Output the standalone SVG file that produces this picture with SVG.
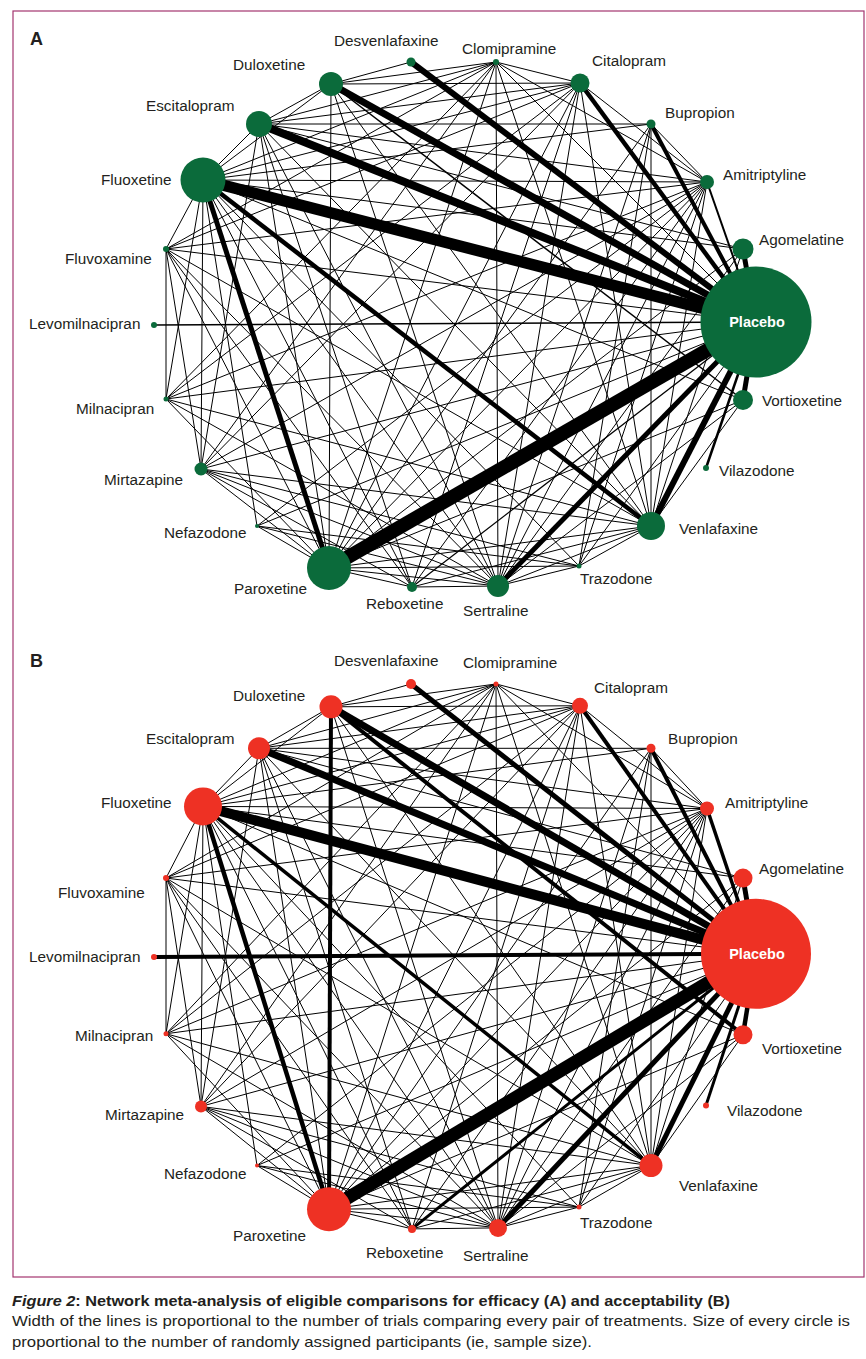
<svg xmlns="http://www.w3.org/2000/svg" xmlns:xlink="http://www.w3.org/1999/xlink" width="866" height="1359" viewBox="0 0 866 1359">
<style>
.bg{fill:#fff}
.frame{fill:none;stroke:#a3356f;stroke-width:1.2}
line{stroke:#000;stroke-linecap:butt;vector-effect:non-scaling-stroke}
.t{stroke-width:1}
.lbl{font-family:"Liberation Sans",Arial,sans-serif;font-size:15.3px;fill:#231f20}
.pl{font-family:"Liberation Sans",Arial,sans-serif;font-size:14.5px;font-weight:bold;fill:#fff;text-anchor:middle}
.pan{font-family:"Liberation Sans",Arial,sans-serif;font-size:18px;font-weight:bold;fill:#231f20}
.cap{font-family:"Liberation Sans",Arial,sans-serif;font-size:15px;fill:#231f20}
.g{fill:#0b6b3b}
.r{fill:#ee3124}
</style>
<defs>
<g id="thin" class="t">
<line x1="743" y1="249" x2="203" y2="180"/>
<line x1="743" y1="249" x2="329" y2="568"/>
<line x1="743" y1="249" x2="498" y2="586"/>
<line x1="743" y1="249" x2="259" y2="124"/>
<line x1="743" y1="249" x2="651" y2="526"/>
<line x1="707" y1="182" x2="203" y2="180"/>
<line x1="707" y1="182" x2="329" y2="568"/>
<line x1="707" y1="182" x2="498" y2="586"/>
<line x1="707" y1="182" x2="580" y2="83"/>
<line x1="707" y1="182" x2="166" y2="249"/>
<line x1="707" y1="182" x2="201" y2="469"/>
<line x1="707" y1="182" x2="579" y2="566"/>
<line x1="707" y1="182" x2="651" y2="526"/>
<line x1="707" y1="182" x2="166" y2="399"/>
<line x1="707" y1="182" x2="412" y2="587"/>
<line x1="707" y1="182" x2="259" y2="124"/>
<line x1="707" y1="182" x2="651" y2="124"/>
<line x1="707" y1="182" x2="496" y2="62"/>
<line x1="707" y1="182" x2="257" y2="526"/>
<line x1="651" y1="124" x2="259" y2="124"/>
<line x1="651" y1="124" x2="203" y2="180"/>
<line x1="651" y1="124" x2="329" y2="568"/>
<line x1="651" y1="124" x2="498" y2="586"/>
<line x1="651" y1="124" x2="579" y2="566"/>
<line x1="651" y1="124" x2="651" y2="526"/>
<line x1="580" y1="83" x2="496" y2="62"/>
<line x1="580" y1="83" x2="259" y2="124"/>
<line x1="580" y1="83" x2="203" y2="180"/>
<line x1="580" y1="83" x2="166" y2="249"/>
<line x1="580" y1="83" x2="201" y2="469"/>
<line x1="580" y1="83" x2="329" y2="568"/>
<line x1="580" y1="83" x2="412" y2="587"/>
<line x1="580" y1="83" x2="498" y2="586"/>
<line x1="580" y1="83" x2="651" y2="526"/>
<line x1="580" y1="83" x2="331" y2="84"/>
<line x1="580" y1="83" x2="166" y2="399"/>
<line x1="496" y1="62" x2="203" y2="180"/>
<line x1="496" y1="62" x2="166" y2="249"/>
<line x1="496" y1="62" x2="329" y2="568"/>
<line x1="496" y1="62" x2="498" y2="586"/>
<line x1="496" y1="62" x2="651" y2="526"/>
<line x1="496" y1="62" x2="201" y2="469"/>
<line x1="496" y1="62" x2="166" y2="399"/>
<line x1="496" y1="62" x2="259" y2="124"/>
<line x1="496" y1="62" x2="331" y2="84"/>
<line x1="411" y1="62" x2="331" y2="84"/>
<line x1="331" y1="84" x2="259" y2="124"/>
<line x1="331" y1="84" x2="203" y2="180"/>
<line x1="331" y1="84" x2="329" y2="568"/>
<line x1="331" y1="84" x2="651" y2="526"/>
<line x1="331" y1="84" x2="498" y2="586"/>
<line x1="259" y1="124" x2="203" y2="180"/>
<line x1="259" y1="124" x2="329" y2="568"/>
<line x1="259" y1="124" x2="498" y2="586"/>
<line x1="259" y1="124" x2="651" y2="526"/>
<line x1="259" y1="124" x2="412" y2="587"/>
<line x1="259" y1="124" x2="201" y2="469"/>
<line x1="203" y1="180" x2="166" y2="249"/>
<line x1="203" y1="180" x2="166" y2="399"/>
<line x1="203" y1="180" x2="201" y2="469"/>
<line x1="203" y1="180" x2="257" y2="526"/>
<line x1="203" y1="180" x2="412" y2="587"/>
<line x1="203" y1="180" x2="498" y2="586"/>
<line x1="203" y1="180" x2="579" y2="566"/>
<line x1="203" y1="180" x2="743" y2="400"/>
<line x1="166" y1="249" x2="329" y2="568"/>
<line x1="166" y1="249" x2="498" y2="586"/>
<line x1="166" y1="249" x2="166" y2="399"/>
<line x1="166" y1="249" x2="201" y2="469"/>
<line x1="166" y1="249" x2="651" y2="526"/>
<line x1="166" y1="249" x2="412" y2="587"/>
<line x1="166" y1="399" x2="329" y2="568"/>
<line x1="166" y1="399" x2="651" y2="526"/>
<line x1="166" y1="399" x2="498" y2="586"/>
<line x1="201" y1="469" x2="329" y2="568"/>
<line x1="201" y1="469" x2="498" y2="586"/>
<line x1="201" y1="469" x2="651" y2="526"/>
<line x1="201" y1="469" x2="579" y2="566"/>
<line x1="201" y1="469" x2="412" y2="587"/>
<line x1="257" y1="526" x2="329" y2="568"/>
<line x1="257" y1="526" x2="498" y2="586"/>
<line x1="257" y1="526" x2="579" y2="566"/>
<line x1="329" y1="568" x2="412" y2="587"/>
<line x1="329" y1="568" x2="498" y2="586"/>
<line x1="329" y1="568" x2="579" y2="566"/>
<line x1="329" y1="568" x2="651" y2="526"/>
<line x1="329" y1="568" x2="743" y2="400"/>
<line x1="412" y1="587" x2="498" y2="586"/>
<line x1="412" y1="587" x2="651" y2="526"/>
<line x1="498" y1="586" x2="579" y2="566"/>
<line x1="498" y1="586" x2="651" y2="526"/>
<line x1="498" y1="586" x2="743" y2="400"/>
<line x1="579" y1="566" x2="651" y2="526"/>
<line x1="651" y1="526" x2="743" y2="400"/>
<line x1="756" y1="322" x2="496" y2="62"/>
<line x1="756" y1="322" x2="166" y2="249"/>
<line x1="756" y1="322" x2="166" y2="399"/>
<line x1="756" y1="322" x2="201" y2="469"/>
<line x1="756" y1="322" x2="257" y2="526"/>
<line x1="756" y1="322" x2="579" y2="566"/>
</g>
</defs>
<rect class="bg" x="0" y="0" width="866" height="1359"/>
<rect class="frame" x="13" y="11" width="851" height="1266"/>

<g id="connectors-a">
<use xlink:href="#thin"/>
<line x1="756" y1="322" x2="154" y2="325" style="stroke-width:1.3"/>
<line x1="756" y1="322" x2="412" y2="587" style="stroke-width:1.3"/>
<line x1="756" y1="322" x2="707" y2="182" style="stroke-width:2"/>
<line x1="756" y1="322" x2="706" y2="468" style="stroke-width:2.5"/>
<line x1="331" y1="84" x2="743" y2="400" style="stroke-width:1.5"/>
<line x1="756" y1="322" x2="651" y2="124" style="stroke-width:4"/>
<line x1="756" y1="322" x2="580" y2="83" style="stroke-width:4.5"/>
<line x1="756" y1="322" x2="743" y2="249" style="stroke-width:5"/>
<line x1="756" y1="322" x2="743" y2="400" style="stroke-width:5"/>
<line x1="756" y1="322" x2="498" y2="586" style="stroke-width:5"/>
<line x1="756" y1="322" x2="651" y2="526" style="stroke-width:6"/>
<line x1="756" y1="322" x2="411" y2="62" style="stroke-width:6"/>
<line x1="756" y1="322" x2="331" y2="84" style="stroke-width:7"/>
<line x1="756" y1="322" x2="259" y2="124" style="stroke-width:8"/>
<line x1="756" y1="322" x2="203" y2="180" style="stroke-width:11.5"/>
<line x1="756" y1="322" x2="329" y2="568" style="stroke-width:14"/>
<line x1="203" y1="180" x2="329" y2="568" style="stroke-width:5"/>
<line x1="203" y1="180" x2="651" y2="526" style="stroke-width:4.5"/>
</g>

<g id="connectors-b" transform="matrix(1 0 0 1.038 0 619.6)">
<use xlink:href="#thin"/>
<line x1="756" y1="322" x2="154" y2="325" style="stroke-width:4"/>
<line x1="756" y1="322" x2="412" y2="587" style="stroke-width:3"/>
<line x1="756" y1="322" x2="707" y2="182" style="stroke-width:3.5"/>
<line x1="756" y1="322" x2="706" y2="468" style="stroke-width:3"/>
<line x1="331" y1="84" x2="743" y2="400" style="stroke-width:4"/>
<line x1="331" y1="84" x2="329" y2="568" style="stroke-width:4"/>
<line x1="756" y1="322" x2="651" y2="124" style="stroke-width:4"/>
<line x1="756" y1="322" x2="580" y2="83" style="stroke-width:4"/>
<line x1="756" y1="322" x2="743" y2="249" style="stroke-width:5"/>
<line x1="756" y1="322" x2="743" y2="400" style="stroke-width:4.5"/>
<line x1="756" y1="322" x2="498" y2="586" style="stroke-width:5"/>
<line x1="756" y1="322" x2="651" y2="526" style="stroke-width:5"/>
<line x1="756" y1="322" x2="411" y2="62" style="stroke-width:5"/>
<line x1="756" y1="322" x2="331" y2="84" style="stroke-width:7"/>
<line x1="756" y1="322" x2="259" y2="124" style="stroke-width:7"/>
<line x1="756" y1="322" x2="203" y2="180" style="stroke-width:10"/>
<line x1="756" y1="322" x2="329" y2="568" style="stroke-width:13"/>
<line x1="203" y1="180" x2="329" y2="568" style="stroke-width:4.5"/>
<line x1="203" y1="180" x2="651" y2="526" style="stroke-width:3.5"/>
</g>

<text class="pan" x="30" y="45">A</text>
<g id="a-placebo"><circle class="g" cx="756" cy="322" r="55.5"/><text class="pl" x="757" y="327">Placebo</text></g>
<g id="a-agomelatine"><circle class="g" cx="743" cy="249" r="10.5"/><text class="lbl" x="759" y="245">Agomelatine</text></g>
<g id="a-amitriptyline"><circle class="g" cx="707" cy="182" r="7"/><text class="lbl" x="723" y="180">Amitriptyline</text></g>
<g id="a-bupropion"><circle class="g" cx="651" cy="124" r="4.5"/><text class="lbl" x="665" y="118">Bupropion</text></g>
<g id="a-citalopram"><circle class="g" cx="580" cy="83" r="9.5"/><text class="lbl" x="592" y="66">Citalopram</text></g>
<g id="a-clomipramine"><circle class="g" cx="496" cy="62" r="3"/><text class="lbl" x="462" y="54">Clomipramine</text></g>
<g id="a-desvenlafaxine"><circle class="g" cx="411" cy="62" r="4.5"/><text class="lbl" x="334" y="46">Desvenlafaxine</text></g>
<g id="a-duloxetine"><circle class="g" cx="331" cy="84" r="12"/><text class="lbl" x="233" y="70">Duloxetine</text></g>
<g id="a-escitalopram"><circle class="g" cx="259" cy="124" r="13"/><text class="lbl" x="146" y="111">Escitalopram</text></g>
<g id="a-fluoxetine"><circle class="g" cx="203" cy="180" r="22.5"/><text class="lbl" x="101" y="185">Fluoxetine</text></g>
<g id="a-fluvoxamine"><circle class="g" cx="166" cy="249" r="3"/><text class="lbl" x="65" y="264">Fluvoxamine</text></g>
<g id="a-levomilnacipran"><circle class="g" cx="154" cy="325" r="3"/><text class="lbl" x="29" y="329">Levomilnacipran</text></g>
<g id="a-milnacipran"><circle class="g" cx="166" cy="399" r="2.5"/><text class="lbl" x="76" y="414">Milnacipran</text></g>
<g id="a-mirtazapine"><circle class="g" cx="201" cy="469" r="6.5"/><text class="lbl" x="104" y="485">Mirtazapine</text></g>
<g id="a-nefazodone"><circle class="g" cx="257" cy="526" r="2"/><text class="lbl" x="164" y="538">Nefazodone</text></g>
<g id="a-paroxetine"><circle class="g" cx="329" cy="568" r="22"/><text class="lbl" x="234" y="594">Paroxetine</text></g>
<g id="a-reboxetine"><circle class="g" cx="412" cy="587" r="5"/><text class="lbl" x="366" y="609">Reboxetine</text></g>
<g id="a-sertraline"><circle class="g" cx="498" cy="586" r="11"/><text class="lbl" x="463" y="616">Sertraline</text></g>
<g id="a-trazodone"><circle class="g" cx="579" cy="566" r="2.5"/><text class="lbl" x="580" y="584">Trazodone</text></g>
<g id="a-venlafaxine"><circle class="g" cx="651" cy="526" r="14"/><text class="lbl" x="679" y="534">Venlafaxine</text></g>
<g id="a-vilazodone"><circle class="g" cx="706" cy="468" r="3"/><text class="lbl" x="719" y="476">Vilazodone</text></g>
<g id="a-vortioxetine"><circle class="g" cx="743" cy="400" r="10"/><text class="lbl" x="762" y="406">Vortioxetine</text></g>

<text class="pan" x="30" y="667">B</text>
<g id="b-placebo"><circle class="r" cx="756" cy="953.8" r="55"/><text class="pl" x="757" y="959">Placebo</text></g>
<g id="b-agomelatine"><circle class="r" cx="743" cy="878.1" r="9.5"/><text class="lbl" x="759" y="874">Agomelatine</text></g>
<g id="b-amitriptyline"><circle class="r" cx="707" cy="808.5" r="7"/><text class="lbl" x="725" y="808">Amitriptyline</text></g>
<g id="b-bupropion"><circle class="r" cx="651" cy="748.3" r="4.5"/><text class="lbl" x="668" y="744">Bupropion</text></g>
<g id="b-citalopram"><circle class="r" cx="580" cy="705.8" r="8"/><text class="lbl" x="594" y="693">Citalopram</text></g>
<g id="b-clomipramine"><circle class="r" cx="496" cy="684" r="2.5"/><text class="lbl" x="463" y="668">Clomipramine</text></g>
<g id="b-desvenlafaxine"><circle class="r" cx="411" cy="684" r="5"/><text class="lbl" x="334" y="666">Desvenlafaxine</text></g>
<g id="b-duloxetine"><circle class="r" cx="331" cy="706.8" r="11.5"/><text class="lbl" x="233" y="701">Duloxetine</text></g>
<g id="b-escitalopram"><circle class="r" cx="259" cy="748.3" r="11"/><text class="lbl" x="146" y="744">Escitalopram</text></g>
<g id="b-fluoxetine"><circle class="r" cx="203" cy="806.4" r="19"/><text class="lbl" x="101" y="808">Fluoxetine</text></g>
<g id="b-fluvoxamine"><circle class="r" cx="166" cy="878.1" r="3"/><text class="lbl" x="58" y="898">Fluvoxamine</text></g>
<g id="b-levomilnacipran"><circle class="r" cx="154" cy="957" r="3"/><text class="lbl" x="29" y="962">Levomilnacipran</text></g>
<g id="b-milnacipran"><circle class="r" cx="166" cy="1033.8" r="2.5"/><text class="lbl" x="75" y="1041">Milnacipran</text></g>
<g id="b-mirtazapine"><circle class="r" cx="201" cy="1106.4" r="6"/><text class="lbl" x="105" y="1120">Mirtazapine</text></g>
<g id="b-nefazodone"><circle class="r" cx="257" cy="1165.6" r="2"/><text class="lbl" x="164" y="1179">Nefazodone</text></g>
<g id="b-paroxetine"><circle class="r" cx="329" cy="1209.2" r="22"/><text class="lbl" x="233" y="1241">Paroxetine</text></g>
<g id="b-reboxetine"><circle class="r" cx="412" cy="1228.9" r="4"/><text class="lbl" x="366" y="1258">Reboxetine</text></g>
<g id="b-sertraline"><circle class="r" cx="498" cy="1227.9" r="9"/><text class="lbl" x="463" y="1261">Sertraline</text></g>
<g id="b-trazodone"><circle class="r" cx="579" cy="1207.1" r="2.5"/><text class="lbl" x="580" y="1228">Trazodone</text></g>
<g id="b-venlafaxine"><circle class="r" cx="651" cy="1165.6" r="11.5"/><text class="lbl" x="679" y="1191">Venlafaxine</text></g>
<g id="b-vilazodone"><circle class="r" cx="706" cy="1105.4" r="3"/><text class="lbl" x="727" y="1116">Vilazodone</text></g>
<g id="b-vortioxetine"><circle class="r" cx="743" cy="1034.8" r="9.5"/><text class="lbl" x="762" y="1054">Vortioxetine</text></g>

<text class="cap" x="12" y="1306" font-weight="bold" textLength="718" lengthAdjust="spacingAndGlyphs"><tspan font-style="italic">Figure 2</tspan>: Network meta-analysis of eligible comparisons for efficacy (A) and acceptability (B)</text>
<text class="cap" x="12" y="1326" textLength="838" lengthAdjust="spacingAndGlyphs">Width of the lines is proportional to the number of trials comparing every pair of treatments. Size of every circle is</text>
<text class="cap" x="12" y="1347" textLength="580" lengthAdjust="spacingAndGlyphs">proportional to the number of randomly assigned participants (ie, sample size).</text>
</svg>
